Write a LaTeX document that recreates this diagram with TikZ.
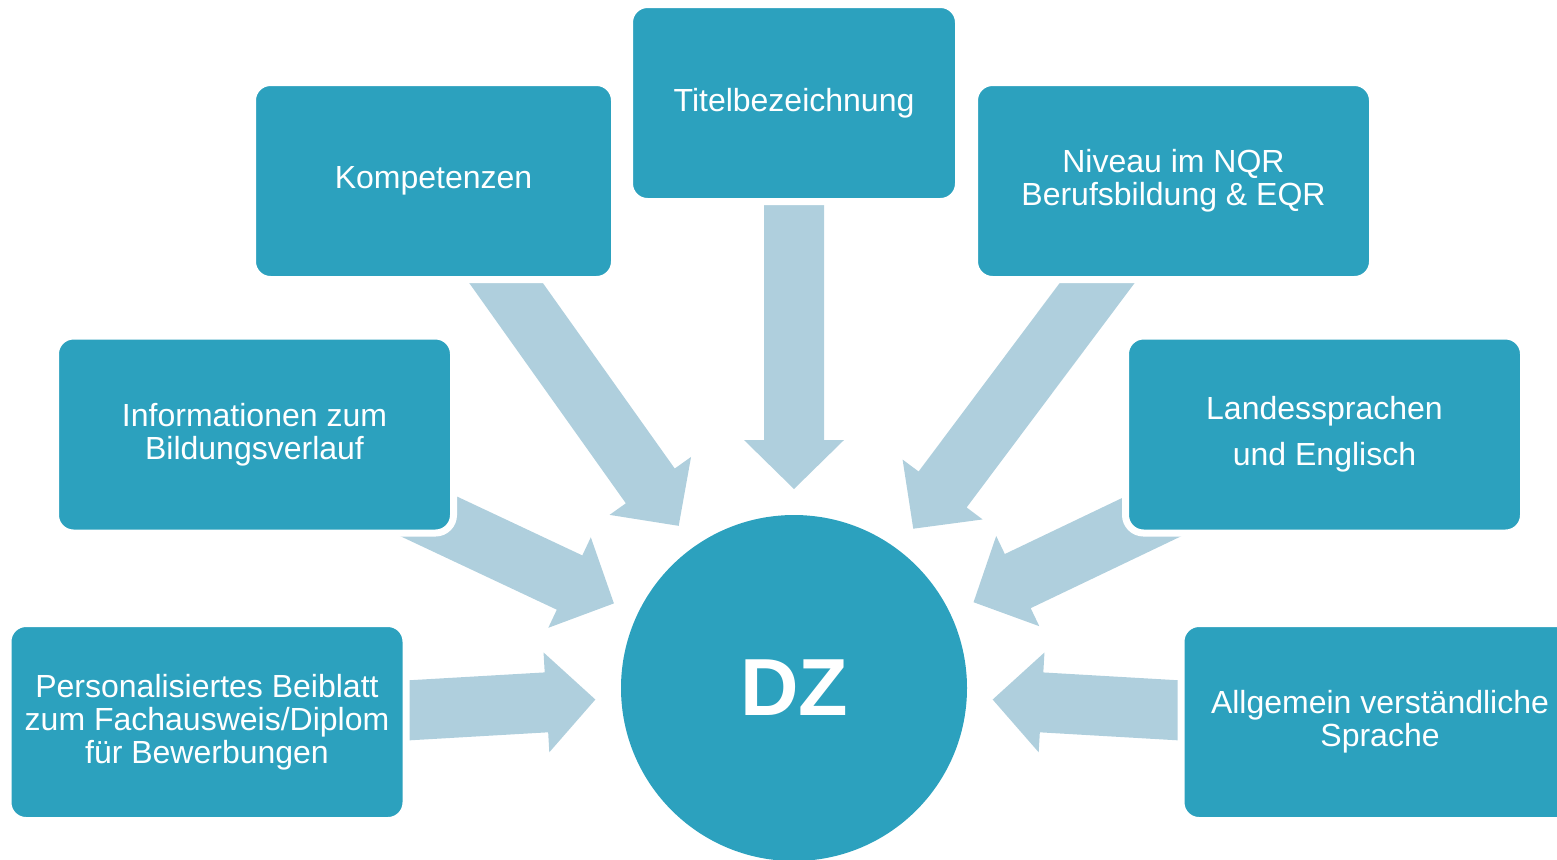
\documentclass[tikz,border=0pt]{standalone}
\usepackage{fontspec}
\setmainfont{Liberation Sans}
\usetikzlibrary{calc,backgrounds}
\definecolor{tealbox}{RGB}{44,161,190}
\definecolor{paleblue}{RGB}{175,207,221}
\tikzset{
    tile/.style={fill=tealbox, draw=white, line width=3.5pt, rounded corners=9pt,
      minimum width=199pt, minimum height=98.5pt, inner sep=0pt, align=center,
      text=white, font=\fontsize{16}{16.5}\selectfont},
    hub/.style={fill=tealbox, circle, minimum size=173pt, inner sep=0pt,
      text=white, font=\bfseries\fontsize{40.5}{40.5}\selectfont},
    fatarrow/.style={fill=paleblue}
}
\newcommand{\feedarrow}[1]{%
  \coordinate (neck) at ($(dz)!124pt!(#1)$);
  \fill[fatarrow] ($(#1)!15pt!90:(dz)$) -- ($(neck)!15pt!90:(dz)$)
    -- ($(neck)!25pt!90:(dz)$) -- ($(dz)!99.5pt!(#1)$)
    -- ($(neck)!25pt!-90:(dz)$) -- ($(neck)!15pt!-90:(dz)$)
    -- ($(#1)!15pt!-90:(dz)$) -- cycle;
}
\begin{document}
\begin{tikzpicture}[x=0.5pt,y=-0.5pt]
    \useasboundingbox (0,0) rectangle (1557,859);
    \clip (0,0) rectangle (1557,859);
    \node [hub] (dz) at (794,688) {DZ};
    \node [tile, minimum width=164.5pt] (titel) at (794,103) {Titelbezeichnung};
    \node [tile, minimum width=181pt] (komp) at (433.5,181) {Kompetenzen};
    \node [tile] (niveau) at (1173.5,181) {Niveau im NQR\\Berufsbildung \& EQR};
    \node [tile] (info) at (254.5,434.5) {Informationen zum\\Bildungsverlauf};
    \node [tile] (sprachen) at (1324.5,434.5) {Landessprachen\\[6.5pt]und Englisch};
    \node [tile] (beiblatt) at (207,722) {Personalisiertes Beiblatt\\zum Fachausweis/Diplom\\für Bewerbungen};
    \node [tile] (verst) at (1380,722) {Allgemein verständliche\\Sprache};
    \begin{pgfonlayer}{background}
        \feedarrow{titel}
        \feedarrow{komp}
        \feedarrow{niveau}
        \feedarrow{info}
        \feedarrow{sprachen}
        \feedarrow{beiblatt}
        \feedarrow{verst}
    \end{pgfonlayer}
\end{tikzpicture}
\end{document}
